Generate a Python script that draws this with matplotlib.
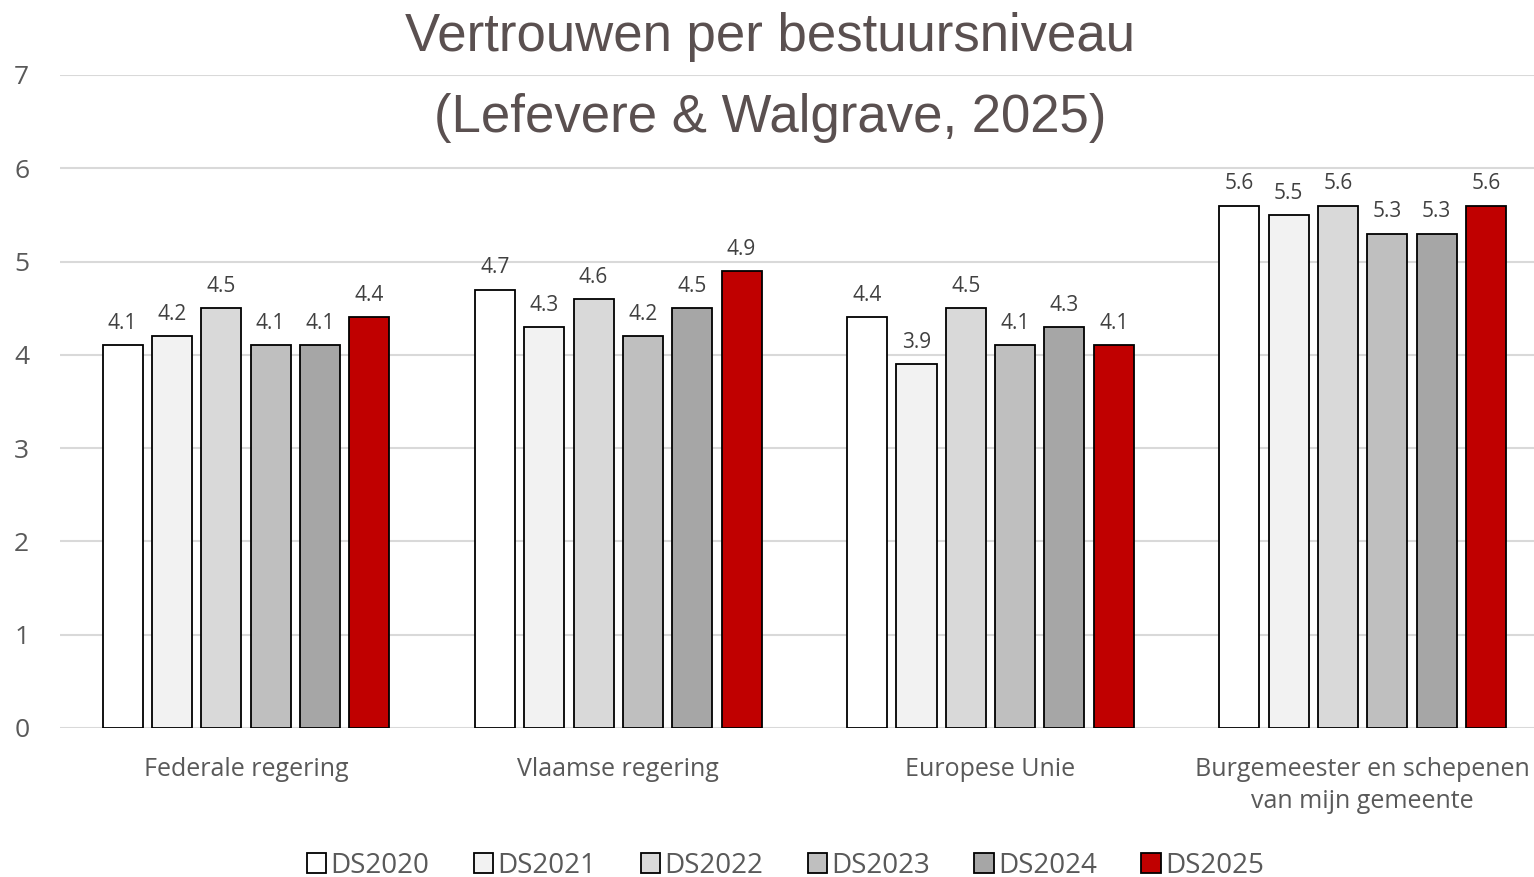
import matplotlib
matplotlib.use('Agg')
import matplotlib.pyplot as plt
import numpy as np

categories = ["Federale regering", "Vlaamse regering", "Europese Unie",
              "Burgemeester en schepenen\nvan mijn gemeente"]
series = ["DS2020", "DS2021", "DS2022", "DS2023", "DS2024", "DS2025"]
ds2020 = [4.1, 4.7, 4.4, 5.6]
ds2021 = [4.2, 4.3, 3.9, 5.5]
ds2022 = [4.5, 4.6, 4.5, 5.6]
ds2023 = [4.1, 4.2, 4.1, 5.3]
ds2024 = [4.1, 4.5, 4.3, 5.3]
ds2025 = [4.4, 4.9, 4.1, 5.6]
values = [ds2020, ds2021, ds2022, ds2023, ds2024, ds2025]
colors = ['#ffffff', '#f2f2f2', '#d9d9d9', '#bfbfbf', '#a6a6a6', '#c00000']

fig = plt.figure(figsize=(15.34, 8.77), dpi=100)
ax = fig.add_axes([0.039, 0.170, 0.961, 0.7445])

x = np.arange(len(categories))
step = 0.1325
width = 0.1075
for i, (name, vals) in enumerate(zip(series, values)):
    pos = x + (i - 2.5) * step
    bars = ax.bar(pos, vals, width, color=colors[i], edgecolor='black',
                  linewidth=1.3, label=name, zorder=3)
    for b, v in zip(bars, vals):
        ax.text(b.get_x() + b.get_width() / 2, v + 0.12, f"{v:.1f}",
                ha='center', va='bottom', fontsize=15, color='#404040',
                family='Open Sans')

ax.set_xlim(-0.5, 3.46)
ax.set_ylim(0, 7)
ax.set_yticks(range(8))
ax.yaxis.grid(True, color='#d9d9d9', linewidth=1.5, zorder=0)
ax.set_axisbelow(True)
for s in ax.spines.values():
    s.set_visible(False)
ax.tick_params(axis='both', length=0, labelsize=19, labelcolor='#595959')
ax.tick_params(axis='x', labelsize=18, pad=21)
ax.tick_params(axis='y', pad=22)
ax.set_xticks(x)
ax.set_xticklabels(categories, family='Open Sans', linespacing=1.35)
for t in ax.get_yticklabels():
    t.set_family('Open Sans')

fig.text(0.502, 0.958, "Vertrouwen per bestuursniveau", ha='center', va='center',
         fontsize=38, color='#5a5050', family='Liberation Sans')
fig.text(0.502, 0.866, "(Lefevere & Walgrave, 2025)", ha='center', va='center',
         fontsize=38, color='#5a5050', family='Liberation Sans')

leg = fig.legend(loc='center', bbox_to_anchor=(0.512, 0.013), ncol=6, frameon=False,
                 prop={'family': 'Open Sans', 'size': 20}, handlelength=0.7,
                 handleheight=0.7, handletextpad=0.15, columnspacing=1.6)
for t in leg.get_texts():
    t.set_color('#595959')

fig.savefig('out.png', dpi=100)
